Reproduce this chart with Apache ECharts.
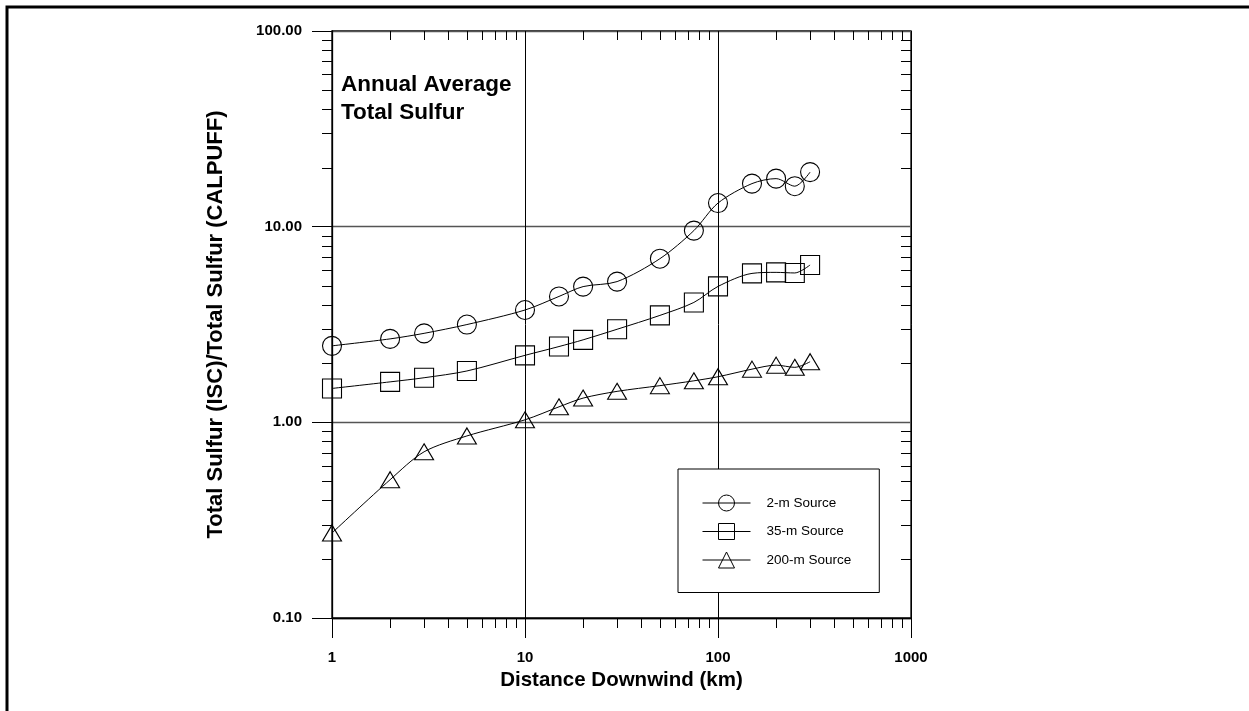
<!DOCTYPE html>
<html>
<head>
<meta charset="utf-8">
<title>Total Sulfur ratio vs distance</title>
<script src="https://cdn.jsdelivr.net/npm/echarts@6.0.0/dist/echarts.min.js"></script>
<style>
  html, body { margin: 0; padding: 0; background: #fff; }
  #chart { width: 1249px; height: 711px; }
</style>
</head>
<body>
<div id="chart"></div>
<script>
// distances downwind (km)
var distances = [1, 2, 3, 5, 10, 15, 20, 30, 50, 75, 100, 150, 200, 250, 300];
// ratio ISC / CALPUFF
var source2m = [2.46, 2.67, 2.85, 3.16, 3.75, 4.40, 4.94, 5.24, 6.86, 9.55, 13.2, 16.6, 17.6, 16.1, 19.0];
var source35m = [1.49, 1.61, 1.69, 1.83, 2.20, 2.44, 2.64, 2.99, 3.52, 4.10, 4.95, 5.77, 5.84, 5.80, 6.37];
var source200m = [0.272, 0.509, 0.707, 0.852, 1.03, 1.20, 1.33, 1.44, 1.54, 1.63, 1.71, 1.87, 1.96, 1.91, 2.04];

var seriesNames = ["2-m Source", "35-m Source", "200-m Source"];

// axis ranges and minor tick values (log axes)
var xRange = [1, 1000];
var yRange = [0.1, 100];
var xMinorTicks = [2, 3, 4, 5, 6, 7, 8, 9, 20, 30, 40, 50, 60, 70, 80, 90, 200, 300, 400, 500, 600, 700, 800, 900];
var yMinorTicks = [0.2, 0.3, 0.4, 0.5, 0.6, 0.7, 0.8, 0.9, 2, 3, 4, 5, 6, 7, 8, 9, 20, 30, 40, 50, 60, 70, 80, 90];

var FONT = 'Arial, "Liberation Sans", sans-serif';

function pairs(xs, ys) {
  var out = [];
  for (var i = 0; i < xs.length; i++) {
    out.push([xs[i], ys[i]]);
  }
  return out;
}

function crisp(v) {
  return Math.round(v) + 0.5;
}

// minor ticks: outward on bottom/left, inward on top/right
function renderXMinor(params, api) {
  var v = api.value(0);
  var b = api.coord([v, yRange[0]]);
  var t = api.coord([v, yRange[1]]);
  var x = crisp(b[0]);
  return {
    type: "group",
    children: [
      { type: "line", shape: { x1: x, y1: b[1], x2: x, y2: b[1] + 10 }, style: { stroke: "#000", lineWidth: 1 } },
      { type: "line", shape: { x1: x, y1: t[1], x2: x, y2: t[1] + 9 }, style: { stroke: "#000", lineWidth: 1 } }
    ]
  };
}

function renderYMinor(params, api) {
  var v = api.value(1);
  var l = api.coord([xRange[0], v]);
  var r = api.coord([xRange[1], v]);
  var y = crisp(l[1]);
  return {
    type: "group",
    children: [
      { type: "line", shape: { x1: l[0], y1: y, x2: l[0] - 10, y2: y }, style: { stroke: "#000", lineWidth: 1 } },
      { type: "line", shape: { x1: r[0], y1: y, x2: r[0] - 10, y2: y }, style: { stroke: "#000", lineWidth: 1 } }
    ]
  };
}

function lineSeries(name, values, symbol, size) {
  return {
    name: name,
    type: "line",
    data: pairs(distances, values),
    smooth: 0.3,
    symbol: symbol,
    symbolSize: size,
    showAllSymbol: true,
    lineStyle: { color: "#000", width: 1 },
    itemStyle: { color: "rgba(0,0,0,0)", borderColor: "#000", borderWidth: 1.1 },
    emphasis: { disabled: true },
    z: 3
  };
}

var myChart = echarts.init(document.getElementById("chart"));

myChart.setOption({
  animation: false,
  backgroundColor: "#fff",
  textStyle: { fontFamily: FONT },
  title: {
    text: "Annual Average\nTotal Sulfur",
    left: 341,
    top: 71,
    padding: 0,
    textStyle: { fontFamily: FONT, fontSize: 22.5, fontWeight: "bold", color: "#000", lineHeight: 28 }
  },
  legend: {
    orient: "vertical",
    left: 678,
    top: 469,
    data: seriesNames,
    backgroundColor: "#fff",
    borderColor: "#000",
    borderWidth: 1,
    borderRadius: 0,
    padding: [25.5, 28, 24, 24],
    itemWidth: 48,
    itemHeight: 20,
    itemGap: 11.5,
    selectedMode: false,
    lineStyle: { color: "#000", width: 1 },
    itemStyle: { color: "rgba(0,0,0,0)", borderColor: "#000", borderWidth: 1 },
    textStyle: { fontFamily: FONT, fontSize: 13.5, color: "#000", padding: [0, 0, 0, 11] }
  },
  grid: {
    left: 332,
    right: 338,
    top: 31,
    bottom: 93,
    show: true,
    borderColor: "#000",
    borderWidth: 1.3,
    containLabel: false
  },
  xAxis: {
    type: "log",
    logBase: 10,
    min: xRange[0],
    max: xRange[1],
    name: "Distance Downwind (km)",
    nameLocation: "middle",
    nameGap: 52,
    nameTextStyle: { fontFamily: FONT, fontSize: 20.5, fontWeight: "bold", color: "#000" },
    axisLine: { show: true, lineStyle: { color: "#000", width: 1.3 } },
    axisTick: { show: true, length: 20, lineStyle: { color: "#000", width: 1 } },
    axisLabel: {
      margin: 32,
      fontFamily: FONT,
      fontSize: 15,
      fontWeight: "bold",
      color: "#000",
      showMinLabel: true,
      showMaxLabel: true,
      formatter: function (v) {
        return String(Math.round(v));
      }
    },
    splitLine: { show: true, lineStyle: { color: "#000", width: 1 } },
    minorTick: { show: false },
    minorSplitLine: { show: false }
  },
  yAxis: {
    type: "log",
    logBase: 10,
    min: yRange[0],
    max: yRange[1],
    name: "Total Sulfur (ISC)/Total Sulfur (CALPUFF)",
    nameLocation: "middle",
    nameGap: 105,
    nameTextStyle: { fontFamily: FONT, fontSize: 22, fontWeight: "bold", color: "#000" },
    axisLine: { show: true, lineStyle: { color: "#000", width: 1.3 } },
    axisTick: { show: true, length: 20, lineStyle: { color: "#000", width: 1 } },
    axisLabel: {
      margin: 30,
      fontFamily: FONT,
      fontSize: 15,
      fontWeight: "bold",
      color: "#000",
      formatter: function (v) {
        return Number(v).toFixed(2);
      }
    },
    splitLine: { show: true, lineStyle: { color: "#555", width: 1.3 } },
    minorTick: { show: false },
    minorSplitLine: { show: false }
  },
  graphic: [
    {
      // outer frame of the page
      type: "polyline",
      shape: { points: [[7, 711], [7, 7], [1249, 7]] },
      style: { stroke: "#000", lineWidth: 3, fill: null },
      silent: true
    }
  ],
  series: [
    lineSeries(seriesNames[0], source2m, "circle", 19),
    lineSeries(seriesNames[1], source35m, "rect", 19),
    lineSeries(seriesNames[2], source200m, "triangle", [19, 16]),
    {
      name: "xMinor",
      type: "custom",
      silent: true,
      clip: false,
      renderItem: renderXMinor,
      data: xMinorTicks.map(function (v) { return [v, 1]; }),
      z: 4
    },
    {
      name: "yMinor",
      type: "custom",
      silent: true,
      clip: false,
      renderItem: renderYMinor,
      data: yMinorTicks.map(function (v) { return [1, v]; }),
      z: 4
    }
  ]
});
</script>
</body>
</html>
